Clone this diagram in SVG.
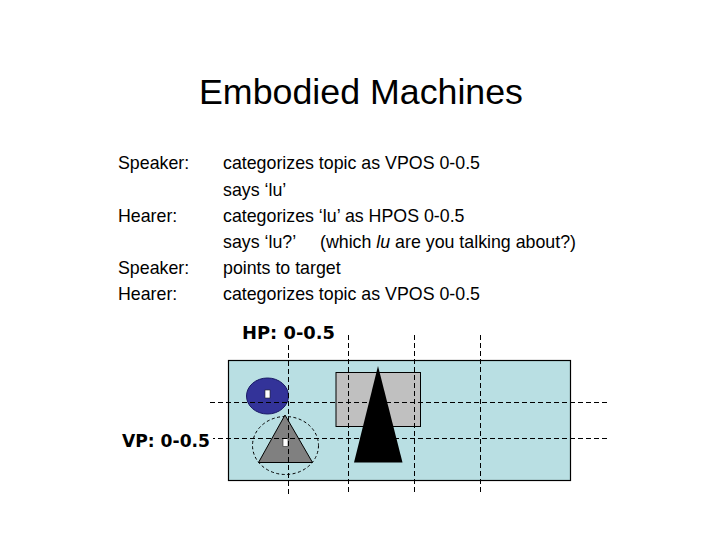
<svg xmlns="http://www.w3.org/2000/svg" width="720" height="540" viewBox="0 0 720 540">
<style>
.t{font-family:"Liberation Sans",Arial,sans-serif;font-size:17.8px;fill:#000}
.lbl{font-family:"DejaVu Sans",Verdana,sans-serif;font-weight:bold;font-size:17px;fill:#000}
.d{stroke:#000;stroke-width:1;stroke-dasharray:5 3;fill:none}
</style>
<rect width="720" height="540" fill="#fff"/>
<text x="199" y="104" font-family="Liberation Sans,Arial,sans-serif" font-size="35" textLength="324" lengthAdjust="spacingAndGlyphs">Embodied Machines</text>
<g id="dialogue">
<text class="t" x="118" y="169">Speaker:</text>
<text class="t" x="223" y="169">categorizes topic as VPOS 0-0.5</text>
<text class="t" x="223" y="195.5">says ‘lu’</text>
<text class="t" x="118" y="222">Hearer:</text>
<text class="t" x="223" y="222">categorizes ‘lu’ as HPOS 0-0.5</text>
<text class="t" x="223" y="248">says ‘lu?’<tspan x="320">(which </tspan><tspan font-style="italic">lu</tspan> are you talking about?)</text>
<text class="t" x="118" y="274">Speaker:</text>
<text class="t" x="223" y="274">points to target</text>
<text class="t" x="118" y="300">Hearer:</text>
<text class="t" x="223" y="300">categorizes topic as VPOS 0-0.5</text>
</g>
<g id="scene">
<rect x="228.5" y="360.5" width="342" height="120" fill="#b9dfe3" stroke="#000" stroke-width="1.2"/>
<rect id="grayrect" x="336" y="372.5" width="84.5" height="54" fill="#c0c0c0" stroke="#000" stroke-width="1"/>
<polygon id="blacktri" points="378,366 354,462.5 402.5,462.5" fill="#000"/>
<ellipse id="blueball" cx="267.5" cy="396" rx="21" ry="18" fill="#333399" stroke="#1a1a66" stroke-width="1"/>
<rect x="265" y="390" width="5" height="8" fill="#fff" stroke="#222" stroke-width="0.6"/>
<ellipse id="target" cx="285.5" cy="445.5" rx="33" ry="29" class="d" style="stroke-dasharray:3 2.5"/>
<polygon id="graytri" points="285,415 258.5,462.5 312.5,462.5" fill="#808080" stroke="#000" stroke-width="1"/>
<rect x="283" y="438.5" width="5" height="8" fill="#fff" stroke="#222" stroke-width="0.6"/>
</g>
<g id="connectors">
<line class="d" x1="288.5" y1="345" x2="288.5" y2="494"/>
<line class="d" x1="348.5" y1="335" x2="348.5" y2="494"/>
<line class="d" x1="414.5" y1="335" x2="414.5" y2="494"/>
<line class="d" x1="480.5" y1="335" x2="480.5" y2="494"/>
<line class="d" x1="210" y1="402.5" x2="607" y2="402.5"/>
<line class="d" x1="210" y1="438.5" x2="607" y2="438.5"/>
</g>
<rect x="120" y="430" width="93" height="20" fill="#fff"/>
<text class="lbl" x="242" y="338.5" textLength="93" lengthAdjust="spacingAndGlyphs">HP: 0-0.5</text>
<text class="lbl" x="122" y="447" textLength="88" lengthAdjust="spacingAndGlyphs">VP: 0-0.5</text>
</svg>
